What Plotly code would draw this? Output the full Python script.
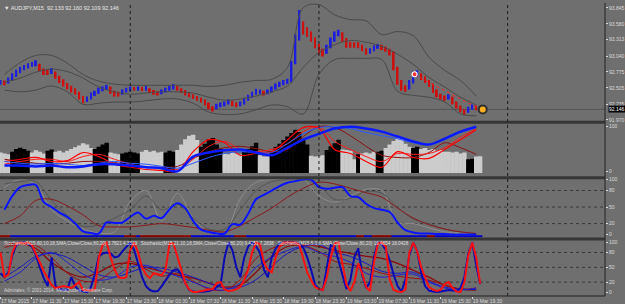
import pandas as pd
import plotly.graph_objects as go
from plotly.subplots import make_subplots

# ---------------- data ----------------
bar_start = "2015-03-17 07:30"      # 30-minute bars
high = [92.64,92.63,92.68,92.75,92.81,92.86,92.89,92.92,92.94,92.97,
        92.91,92.83,92.81,92.84,92.78,92.71,92.65,92.59,92.54,92.50,
        92.44,92.37,92.36,92.43,92.46,92.51,92.53,92.56,92.53,92.46,
        92.44,92.48,92.51,92.53,92.52,92.53,92.52,92.54,92.50,92.47,
        92.45,92.48,92.51,92.54,92.57,92.54,92.50,92.47,92.43,92.40,
        92.37,92.34,92.31,92.26,92.20,92.24,92.26,92.28,92.31,92.29,
        92.26,92.28,92.34,92.39,92.44,92.49,92.48,92.46,92.48,92.53,
        92.58,92.61,92.64,92.66,92.96,93.40,93.81,93.62,93.52,93.45,
        93.35,93.24,93.16,93.23,93.35,93.45,93.48,93.44,93.34,93.28,
        93.27,93.27,93.23,93.17,93.17,93.22,93.24,93.23,93.20,93.16,
        93.12,92.86,92.64,92.55,92.64,92.78,92.80,92.75,92.70,92.64,
        92.58,92.48,92.41,92.38,92.40,92.36,92.28,92.21,92.15,92.19,
        92.23,92.21,92.18]
low = [92.56,92.55,92.58,92.62,92.69,92.75,92.80,92.83,92.86,92.87,
       92.79,92.72,92.72,92.74,92.66,92.59,92.53,92.48,92.43,92.39,
       92.31,92.25,92.27,92.31,92.37,92.41,92.45,92.47,92.41,92.36,
       92.36,92.39,92.43,92.45,92.46,92.46,92.45,92.46,92.42,92.39,
       92.38,92.40,92.43,92.46,92.48,92.46,92.42,92.38,92.35,92.32,
       92.29,92.26,92.21,92.15,92.11,92.15,92.18,92.20,92.23,92.20,
       92.18,92.20,92.23,92.29,92.34,92.39,92.40,92.38,92.40,92.43,
       92.48,92.52,92.55,92.57,92.60,92.90,93.30,93.40,93.36,93.28,
       93.17,93.07,93.03,93.08,93.17,93.28,93.37,93.28,93.18,93.18,
       93.18,93.17,93.12,93.06,93.08,93.12,93.16,93.14,93.11,93.05,
       92.80,92.56,92.46,92.44,92.48,92.58,92.69,92.64,92.59,92.52,
       92.42,92.35,92.31,92.29,92.31,92.23,92.16,92.10,92.05,92.09,
       92.14,92.13,92.11]

band_start = "2015-03-17 08:00"     # 2-hour samples
band_upper = [92.73,92.93,93.05,93.05,92.92,92.73,92.62,92.57,92.55,92.55,92.55,92.55,92.55,92.53,92.55,92.60,
              92.63,92.65,92.85,93.85,93.90,93.73,93.65,93.63,93.40,93.45,93.38,93.02,92.80,92.63,92.37]
band_mid = [92.60,92.67,92.77,92.82,92.78,92.67,92.52,92.44,92.40,92.42,92.44,92.44,92.42,92.35,92.30,92.32,
            92.37,92.44,92.54,92.85,93.10,93.23,93.30,93.27,93.20,93.07,92.90,92.68,92.52,92.35,92.22]
band_lower = [92.47,92.44,92.47,92.54,92.44,92.23,92.25,92.27,92.27,92.29,92.32,92.32,92.25,92.10,92.06,92.07,
              92.14,92.22,92.19,92.07,92.73,92.98,93.00,93.00,92.98,92.45,92.38,92.35,92.27,92.07,92.04]

trend_time = ["2015-03-19 12:15", "2015-03-19 20:30"]
trend_price = [92.72, 92.15]
mark_time = ["2015-03-19 12:10", "2015-03-19 20:50"]
mark_price = [92.735, 92.146]
last_price = 92.146

price_ticks = [93.845, 93.580, 93.313, 93.040, 92.775, 92.505, 92.235, 91.970]

# panel 2 : histogram (30-min) + averages (2-hour)
hist = [42,40,38,44,50,53,50,46,42,47,44,40,46,49,44,46,42,46,50,54,
        58,63,60,52,50,55,60,64,42,40,38,40,42,44,42,40,44,48,44,46,
        42,44,42,46,44,48,60,72,80,82,70,55,62,72,75,60,50,40,38,42,
        40,38,44,50,56,64,36,33,34,44,55,62,70,78,86,93,88,70,60,35,
        33,34,36,48,56,63,71,49,48,46,27,38,40,42,40,44,44,46,52,60,
        68,74,75,62,55,52,55,50,52,48,50,46,48,44,44,42,44,40,42,27,
        28,33,34]
hist_state = ("lllbbbbbllllbbllllllllllbbbblllbbbbbllllllbbbllllllbbbbbblllllbbbb"
              "lllbbbbbbbbbbllllbbbbllllbllllbblllllllbbllllllllllllbbll")
p2_blue_thick = [13,13,11,13,9,11,16,16,13,9,7,0,33,42,47,49,42,36,53,71,84,96,100,96,89,78,67,60,73,89,100]
p2_blue_thin = [22,18,16,18,16,13,18,22,18,16,11,7,18,31,40,44,42,42,62,84,98,100,96,87,80,73,64,60,71,87,98]
p2_red1 = [22,27,31,22,24,42,33,16,9,4,2,0,44,71,64,36,40,44,71,98,96,49,40,22,9,44,31,29,49,71,93]
p2_red2 = [16,22,27,27,22,33,38,27,16,9,7,4,27,56,67,49,44,49,62,89,100,67,49,33,22,40,38,40,53,76,96]
p2_darkred = [27,22,18,16,18,22,22,20,13,9,9,11,29,44,53,56,51,44,49,78,100,98,80,56,36,31,31,42,64,53,38]

# panel 3
p3_start = "2015-03-17 08:00"      # hourly
p3_blue = [45,70,86,90,90,59,50,40,32,20,6,3,2,22,21,22,32,40,29,34,30,46,57,48,25,9,5,2,2,19,18,
           38,64,72,80,88,94,97,100,100,86,83,85,86,70,68,56,48,45,41,22,8,4,2,2,1,1,0,0,0,0]
p3_darkred = [20,34,62,64,52,36,16,14,14,17,20,17,13,8,5,16,32,48,68,84,95,92,84,76,68,48,30,18,10,5,2]
p3_gray1 = [85,100,90,45,25,10,3,5,60,80,25,75,30,5,3,65,95,100,100,100,70,59,70,82,80,22,20,12,5,3,2]
p3_gray2 = [92,96,96,62,35,15,18,30,45,70,45,55,30,10,10,45,80,96,100,100,90,64,66,78,75,50,28,20,10,5,2]
p3_state = ("rrrbbbbbbbbbbbbbbbbbbbbbbbbbbbbbrrrbrrrrrrrrrrrrrbbbbbbbbbbbrrr"
            "bbbbbbbbbbbbbbbbbbbbbbbbbbbbrrbbrrrrrbbbbbbbbbrrbbbbbbbbbbbb")

# panel 4 : stochastics
p4_red = [80,30,35,80,98,100,98,100,95,78,58,42,28,14,8,10,12,10,8,14,
          20,4,3,3,5,70,95,100,70,46,30,28,30,85,100,80,50,35,28,38,
          36,34,46,98,98,70,45,18,5,0,0,2,4,5,6,18,20,5,2,3,
          6,10,25,45,80,100,96,60,45,40,70,92,100,100,100,100,95,70,40,24,
          10,6,4,30,70,98,100,56,15,2,20,58,38,10,2,60,98,100,92,25,
          4,1,0,5,80,100,82,50,30,10,5,2,5,16,20,8,1,0,20,75,
          100,70,17]
p4_blue = [38,30,40,74,95,100,100,98,92,74,50,28,12,70,12,6,4,5,30,12,
           3,1,0,10,36,72,78,80,78,70,72,82,90,100,85,60,30,12,4,1,
           2,12,24,35,44,46,36,18,4,1,0,0,1,2,5,10,16,70,100,84,
           50,30,70,92,100,92,80,45,30,70,88,98,100,100,100,100,98,90,70,45,
           15,6,4,50,95,92,60,34,6,25,70,88,35,8,20,70,100,97,85,64,
           35,12,1,25,75,100,82,40,12,3,1,0,1,2,4,3,2,8,30,78,
           100,55,16]
p4_dr1 = [96,98,88,60,40,30,40,56,58,50,42,34,28,18,10,14,40,72,92,96,92,84,78,72,68,58,44,30,14,6,4]
p4_dr2 = [90,96,94,70,38,22,24,46,62,46,32,38,22,6,4,25,68,88,96,94,82,62,56,48,38,32,28,24,14,6,8]
p4_bl1 = [30,50,72,78,70,52,35,30,40,50,48,40,30,18,8,10,25,52,78,92,96,80,72,58,42,38,40,22,10,6,5]
p4_bl2 = [22,40,68,80,60,36,24,30,50,54,42,32,20,8,4,18,50,70,84,92,80,72,60,38,30,34,36,20,8,4,8]

time_labels = ["17 Mar 2015","17 Mar 11:30","17 Mar 15:30","17 Mar 19:30","17 Mar 23:30",
               "18 Mar 03:30","18 Mar 07:30","18 Mar 11:30","18 Mar 15:30","18 Mar 19:30",
               "18 Mar 23:30","19 Mar 03:30","19 Mar 07:30","19 Mar 11:30","19 Mar 15:30","19 Mar 19:30"]
day_breaks = ["2015-03-18 00:00", "2015-03-19 00:00", "2015-03-20 00:00"]

title_text = "\u25bc AUDJPY,M15  92.133 92.160 92.109 92.146"
stoch_text = ("Stochastic(M15,60,10,18,SMA,Close/Close,80,20) 3.7821 4.3519   "
              "Stochastic(M15,21,10,18,SMA,Close/Close,80,20) 9.4251 7.2838   "
              "Stochastic(M15,5,3,3,SMA,Close/Close,80,20) 16.9654 18.0428")
copyright_text = "Admiralex, \u00a9 2001-2014, MetaQuotes Software Corp."

# ---------------- build ----------------
BG = "#6f6f6f"
TXT = "#dcdcdc"
FONT = "Liberation Sans, Arial, DejaVu Sans"
n = len(high)
t30 = pd.date_range(bar_start, periods=n, freq="30min")
t2h = pd.date_range(band_start, periods=len(band_upper), freq="2h")
t1h = pd.date_range(p3_start, periods=len(p3_blue), freq="1h")
H = 3600 * 1000

mids = [(a + b) / 2 for a, b in zip(high, low)]
bar_cols = ["#1d1de0" if (k == 0 or mids[k] >= mids[k - 1]) else "#cc1010" for k in range(n)]

fig = make_subplots(rows=4, cols=1, shared_xaxes=True, vertical_spacing=0.0)

# panel 1
for arr in (band_upper, band_mid, band_lower):
    fig.add_trace(go.Scatter(x=t2h, y=arr, mode="lines", line=dict(color="#4a4a4a", width=1, shape="spline"),
                             hoverinfo="skip"), row=1, col=1)
fig.add_trace(go.Bar(x=t30, base=low, y=[h - l for h, l in zip(high, low)], width=0.24 * H,
                     marker=dict(color=bar_cols, line=dict(width=0))), row=1, col=1)
fig.add_trace(go.Scatter(x=pd.to_datetime(trend_time), y=trend_price, mode="lines",
                         line=dict(color="#ff2020", width=1, dash="dot")), row=1, col=1)
fig.add_trace(go.Scatter(x=pd.to_datetime(mark_time[:1]), y=mark_price[:1], mode="markers",
                         marker=dict(size=5, color="#ff3030", line=dict(color="white", width=1.2))), row=1, col=1)
fig.add_trace(go.Scatter(x=pd.to_datetime(mark_time[1:]), y=mark_price[1:], mode="markers",
                         marker=dict(size=8, color="#ffb020", line=dict(color="#303030", width=2))), row=1, col=1)

# panel 2
hcols = ["#000000" if s == "b" else "#cccccc" for s in hist_state]
fig.add_trace(go.Bar(x=t30, y=[v + 4 for v in hist], base=-4, width=0.56 * H,
                     marker=dict(color=hcols, line=dict(width=0))), row=2, col=1)
fig.add_trace(go.Scatter(x=t2h, y=p2_darkred, mode="lines", line=dict(color="#8b1010", width=1, shape="spline")), row=2, col=1)
fig.add_trace(go.Scatter(x=t2h, y=p2_red2, mode="lines", line=dict(color="#ff1a1a", width=1, shape="spline")), row=2, col=1)
fig.add_trace(go.Scatter(x=t2h, y=p2_red1, mode="lines", line=dict(color="#ff0000", width=1.2, shape="spline")), row=2, col=1)
fig.add_trace(go.Scatter(x=t2h, y=p2_blue_thin, mode="lines", line=dict(color="#2a5cff", width=1, shape="spline")), row=2, col=1)
fig.add_trace(go.Scatter(x=t2h, y=p2_blue_thick, mode="lines", line=dict(color="#0a1aff", width=2.5, shape="spline")), row=2, col=1)

# panel 3
scols = ["#8b0000" if s == "r" else "#0000c8" for s in p3_state]
fig.add_trace(go.Bar(x=t30, y=[4] * n, base=-5, width=0.56 * H,
                     marker=dict(color=scols, line=dict(width=0))), row=3, col=1)
fig.add_trace(go.Scatter(x=t2h, y=p3_gray1, mode="lines", line=dict(color="#8e8e8e", width=1, shape="spline")), row=3, col=1)
fig.add_trace(go.Scatter(x=t2h, y=p3_gray2, mode="lines", line=dict(color="#555555", width=1, shape="spline")), row=3, col=1)
fig.add_trace(go.Scatter(x=t2h, y=p3_darkred, mode="lines", line=dict(color="#8b1a1a", width=1, shape="spline")), row=3, col=1)
fig.add_trace(go.Scatter(x=t1h, y=p3_blue, mode="lines", line=dict(color="#0a14ff", width=2, shape="spline")), row=3, col=1)

# panel 4
fig.add_trace(go.Scatter(x=t2h, y=p4_dr1, mode="lines", line=dict(color="#8b0a0a", width=1.3, shape="spline")), row=4, col=1)
fig.add_trace(go.Scatter(x=t2h, y=p4_dr2, mode="lines", line=dict(color="#9c1010", width=1, shape="spline")), row=4, col=1)
fig.add_trace(go.Scatter(x=t2h, y=p4_bl1, mode="lines", line=dict(color="#1a1ac0", width=1, shape="spline")), row=4, col=1)
fig.add_trace(go.Scatter(x=t2h, y=p4_bl2, mode="lines", line=dict(color="#2020d0", width=1, shape="spline")), row=4, col=1)
fig.add_trace(go.Scatter(x=t30, y=p4_blue, mode="lines", line=dict(color="#0a0ab4", width=2)), row=4, col=1)
fig.add_trace(go.Scatter(x=t30, y=p4_red, mode="lines", line=dict(color="#ff1010", width=2)), row=4, col=1)

# ---------------- layout ----------------
PLOT_H = 296.0
def py(px):
    return (PLOT_H - px) / PLOT_H

x_lo = pd.Timestamp("2015-03-17 07:26")
x_hi = pd.Timestamp("2015-03-20 12:23")
fig.update_xaxes(range=[x_lo, x_hi], showgrid=False, zeroline=False, showline=False, showticklabels=False,
                 ticks="")
fig.update_xaxes(row=4, col=1, showticklabels=True, ticks="outside", ticklen=2, tickcolor=TXT,
                 tickvals=pd.date_range(bar_start, periods=len(time_labels), freq="4h"),
                 ticktext=time_labels, ticklabelposition="outside right", tickangle=0,
                 tickfont=dict(size=5, color=TXT, family=FONT))

axis_common = dict(side="right", showgrid=False, zeroline=False, showline=False, ticks="outside",
                   ticklen=2, tickcolor=TXT, tickfont=dict(size=5, color=TXT, family=FONT))
fig.update_layout(
    yaxis=dict(domain=[py(119), 1.0], range=[91.955, 93.928], tickvals=price_ticks,
               ticktext=[f"{v:.3f}" for v in price_ticks], **axis_common),
    yaxis2=dict(domain=[py(175), py(122)], range=[-11.1, 106.7], tickvals=[0, 100], ticktext=["0", "100"], **axis_common),
    yaxis3=dict(domain=[py(237), py(178)], range=[-5.4, 100.5], tickvals=[0, 20, 50, 80, 100], **axis_common),
    yaxis4=dict(domain=[0.0, py(240)], range=[-8, 104], tickvals=[0, 20, 50, 80, 100], **axis_common),
)

shapes = []
for a, b in ((119, 122), (175, 178), (237, 240)):
    shapes.append(dict(type="rect", xref="paper", yref="paper", x0=0, x1=1, y0=py(b), y1=py(a),
                       fillcolor="#363636", line=dict(width=0), layer="above"))
for yr in ("y3", "y4"):
    for lv in (20, 50, 80):
        shapes.append(dict(type="line", xref="paper", yref=yr, x0=0, x1=1, y0=lv, y1=lv,
                           line=dict(color="#383838", width=1, dash="dot"), layer="below"))
shapes.append(dict(type="line", xref="paper", yref="y", x0=0, x1=1, y0=last_price, y1=last_price,
                   line=dict(color="#555555", width=1), layer="below"))
for d in day_breaks:
    shapes.append(dict(type="line", xref="x", yref="paper", x0=d, x1=d, y0=0, y1=1,
                       line=dict(color="#1c1c1c", width=1, dash="dot"), layer="above"))
shapes.append(dict(type="line", xref="paper", yref="paper", x0=1, x1=1, y0=0, y1=1,
                   line=dict(color="#222222", width=1)))
shapes.append(dict(type="line", xref="paper", yref="paper", x0=0, x1=1, y0=0, y1=0,
                   line=dict(color="#222222", width=1)))

annotations = [
    dict(text=title_text, xref="paper", yref="paper", x=0.004, y=py(5), xanchor="left", yanchor="middle",
         showarrow=False, font=dict(size=5.5, color="#e8e8e8", family=FONT)),
    dict(text=f"{last_price:.3f}", xref="paper", yref="y", x=1, y=last_price, xanchor="left", yanchor="middle",
         xshift=3, showarrow=False, bgcolor="#000000", borderpad=0, font=dict(size=5, color="#ffffff", family=FONT)),
    dict(text=stoch_text, xref="paper", yref="paper", x=0.004, y=py(243), xanchor="left", yanchor="middle",
         showarrow=False, font=dict(size=4.6, color="#e0e0e0", family=FONT)),
    dict(text=copyright_text, xref="paper", yref="paper", x=0.004, y=py(290), xanchor="left", yanchor="middle",
         showarrow=False, font=dict(size=4.6, color="#d8d8d8", family=FONT)),
]

fig.update_layout(width=625, height=304, margin=dict(l=0, r=20, t=0, b=8),
                  paper_bgcolor=BG, plot_bgcolor=BG, showlegend=False, barmode="overlay",
                  shapes=shapes, annotations=annotations, hovermode=False)

fig.write_html("out.html")
